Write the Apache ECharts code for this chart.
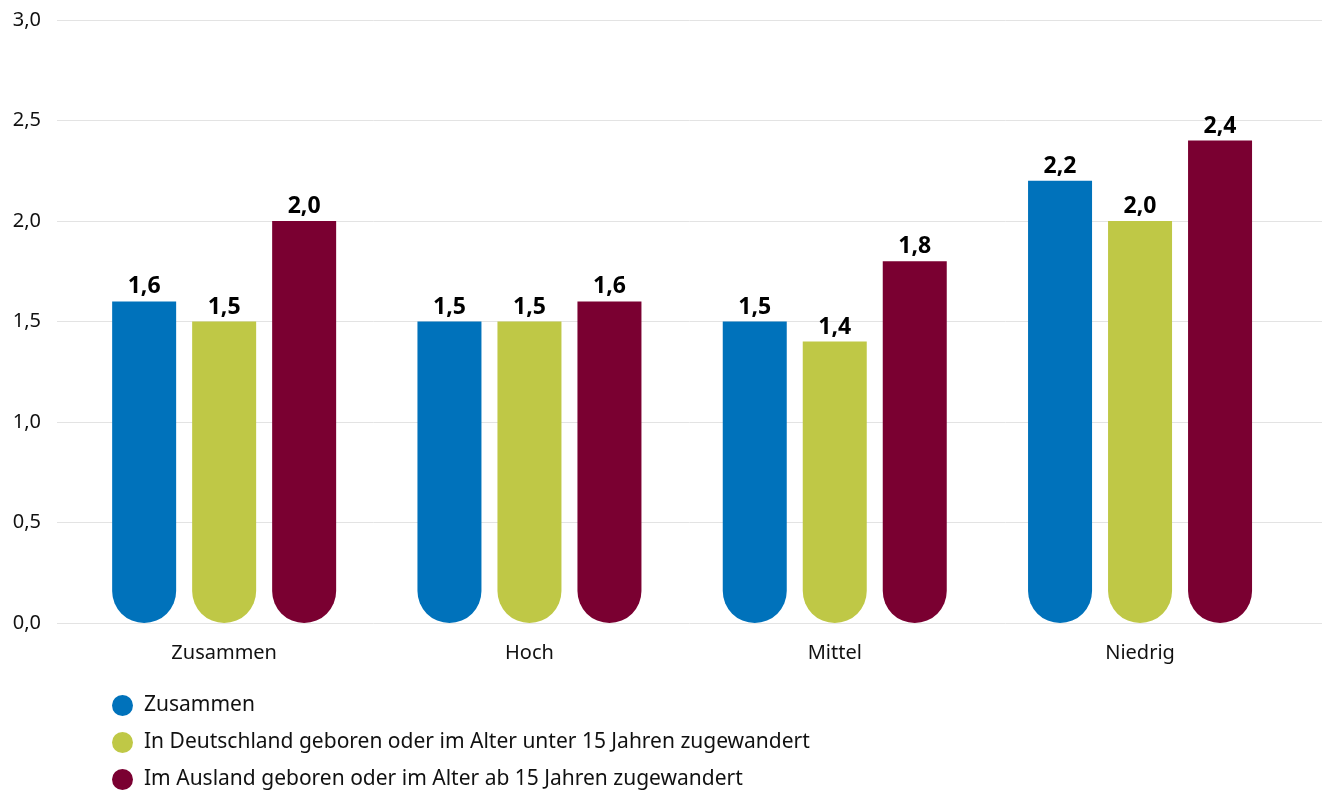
<!DOCTYPE html>
<html>
<head>
<meta charset="utf-8">
<script src="https://cdn.jsdelivr.net/npm/echarts@6/dist/echarts.min.js"></script>
<style>
  html, body { margin: 0; padding: 0; background: #fff; }
  #main { width: 1324px; height: 794px; }
</style>
</head>
<body>
<div id="main"></div>
<script>
const categories = ['Zusammen', 'Hoch', 'Mittel', 'Niedrig']
const seriesNames = [
  'Zusammen',
  'In Deutschland geboren oder im Alter unter 15 Jahren zugewandert',
  'Im Ausland geboren oder im Alter ab 15 Jahren zugewandert'
]
const zusammen = [1.6, 1.5, 1.5, 2.2]
const deutschland = [1.5, 1.5, 1.4, 2.0]
const ausland = [2.0, 1.6, 1.8, 2.4]
const colors = ['#0072bb', '#bfc846', '#7a0031']

const fmt = v => v.toFixed(1).replace('.', ',')
const font = 'Noto Sans'

const myChart = echarts.init(document.getElementById('main'))

const makeSeries = (name, data, i) => ({
  name: name,
  type: 'bar',
  xAxisIndex: 1,
  yAxisIndex: 1,
  barWidth: 64,
  barGap: '25%',
  data: data,
  itemStyle: { color: colors[i], borderRadius: [0, 0, 32, 32] },
  label: {
    show: true,
    position: 'top',
    distance: 3,
    formatter: p => fmt(p.value),
    fontFamily: font,
    fontWeight: 'bold',
    fontSize: 23,
    color: '#000'
  }
})

myChart.setOption({
  animation: false,
  color: colors,
  // grid 0 carries the gridlines, grid 1 the bars
  grid: [
    { left: 57, right: 2, top: 20, bottom: 171 },
    { left: 71.5, right: 31.3, top: 20, bottom: 171 }
  ],
  legend: {
    orient: 'vertical',
    left: 112,
    top: 695,
    padding: 0,
    height: 110,
    itemGap: 16,
    itemWidth: 21,
    itemHeight: 21,
    icon: 'circle',
    data: seriesNames,
    textStyle: { fontFamily: font, fontSize: 21, color: '#111', padding: [0, 0, 0, 6] }
  },
  xAxis: [
    { gridIndex: 0, type: 'value', show: false, min: 0, max: 1 },
    {
      gridIndex: 1,
      type: 'category',
      data: categories,
      axisLine: { show: false },
      axisTick: { show: false },
      axisLabel: { margin: 20, fontFamily: font, fontSize: 20, color: '#111' }
    }
  ],
  yAxis: [
    {
      gridIndex: 0,
      type: 'value',
      min: 0,
      max: 3,
      interval: 0.5,
      axisLine: { show: false },
      axisTick: { show: false },
      splitLine: { lineStyle: { color: '#e3e3e3', width: 1 } },
      axisLabel: { margin: 16, formatter: fmt, fontFamily: font, fontSize: 20, color: '#111' }
    },
    { gridIndex: 1, type: 'value', min: 0, max: 3, show: false }
  ],
  series: [
    makeSeries(seriesNames[0], zusammen, 0),
    makeSeries(seriesNames[1], deutschland, 1),
    makeSeries(seriesNames[2], ausland, 2)
  ]
})
</script>
</body>
</html>
